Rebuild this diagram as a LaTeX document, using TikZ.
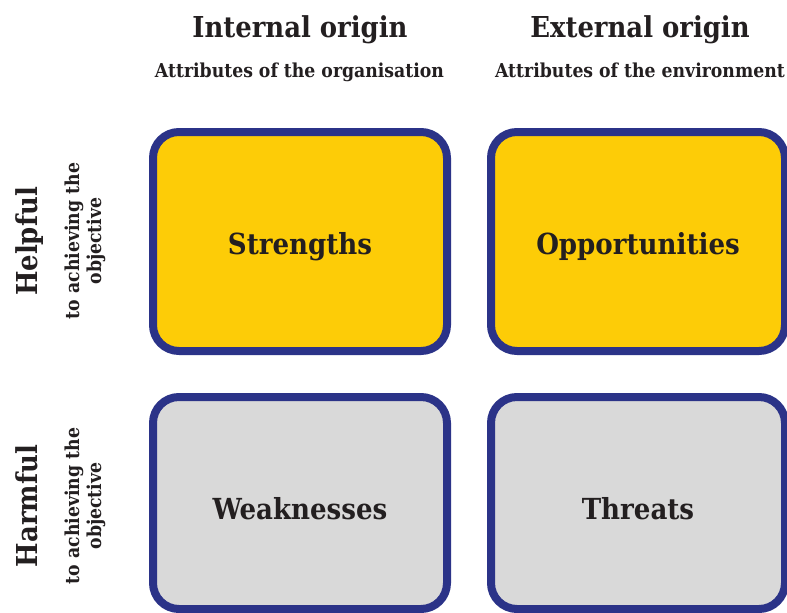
\documentclass[tikz,border=0pt]{standalone}
\usepackage{fontspec}
\setmainfont{DejaVu Serif Condensed}
\definecolor{swyellow}{HTML}{FDCC07}
\definecolor{swgray}{HTML}{D9D9D9}
\definecolor{swblue}{HTML}{2B3388}
\definecolor{swtext}{HTML}{231F20}
\tikzset{
  quad/.style={draw=swblue, line width=8pt, rounded corners=26pt, minimum width=294pt, inner sep=0pt, text=swtext, text depth=0pt, font=\bfseries\fontsize{29}{34}\selectfont},
  helpbox/.style={quad, fill=swyellow, minimum height=219pt, text height=25pt},
  harmbox/.style={quad, fill=swgray, minimum height=212pt, text height=32pt},
  colhead/.style={text=swtext, font=\bfseries\fontsize{28.8}{34}\selectfont, inner sep=0pt, anchor=base},
  colsub/.style={text=swtext, font=\bfseries\fontsize{19.2}{23}\selectfont, inner sep=0pt, anchor=base},
  rowhead/.style={text=swtext, font=\bfseries\fontsize{28.8}{34}\selectfont, inner sep=0pt, rotate=90, anchor=base},
  rowsub/.style={text=swtext, font=\bfseries\fontsize{19.2}{22}\selectfont, inner sep=0pt, rotate=90, align=center},
}
\begin{document}
\begin{tikzpicture}[x=1pt,y=-1pt]
\useasboundingbox (0,0) rectangle (787,613);
\node[helpbox] (s) at (300,241.5) {Strengths};
\node[helpbox] (o) at (638,241.5) {Opportunities};
\node[harmbox] (w) at (300,503) {Weaknesses};
\node[harmbox] (t) at (638,503) {Threats};
\node[colhead] (ih) at (300,37) {Internal origin};
\node[colhead] (eh) at (640,37) {External origin};
\node[colsub] (is) at (299.5,77.5) {Attributes of the organisation};
\node[colsub] (es) at (640,77.5) {Attributes of the environment};
\node[rowhead] (hp) at (37,241.5) {Helpful};
\node[rowsub] (hps) at (85,241) {to achieving the\\objective};
\node[rowhead] (hm) at (37,506) {Harmful};
\node[rowsub] (hms) at (85,506) {to achieving the\\objective};
\end{tikzpicture}
\end{document}
